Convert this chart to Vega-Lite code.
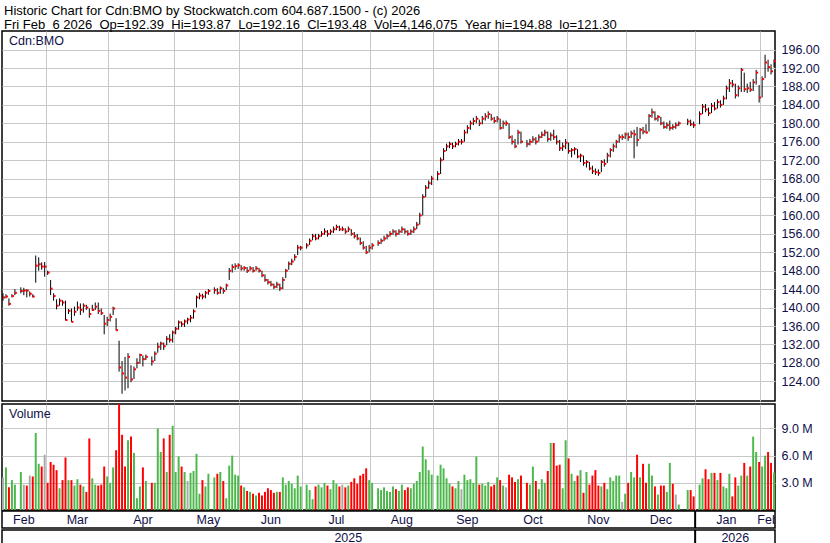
{
  "$schema": "https://vega.github.io/schema/vega-lite/v6.json",
  "background": "white",
  "padding": {"left": 1, "top": 5, "right": 0, "bottom": 0},
  "title": {
    "text": "Historic Chart for Cdn:BMO by Stockwatch.com 604.687.1500 - (c) 2026",
    "subtitle": "Fri Feb\u00a0\u00a06 2026\u00a0\u00a0Op=192.39\u00a0\u00a0Hi=193.87\u00a0\u00a0Lo=192.16\u00a0\u00a0Cl=193.48\u00a0\u00a0Vol=4,146,075\u00a0\u00a0Year hi=194.88\u00a0\u00a0lo=121.30",
    "anchor": "start", "frame": "group", "dx": 2,
    "font": "Liberation Sans", "fontSize": 13, "fontWeight": "normal", "color": "black",
    "subtitleFont": "Liberation Sans", "subtitleFontSize": 13, "subtitleColor": "black",
    "subtitlePadding": 1, "offset": -2
  },
  "datasets": {
    "p": [
      {"d":"2025-02-10","h":143.1,"l":141.5,"c":142.2,"v":3.6e6,"t":"n"},
      {"d":"2025-02-11","h":142.9,"l":142.0,"c":142.4,"v":4.7e6,"t":"u"},
      {"d":"2025-02-12","h":142.0,"l":140.4,"c":140.8,"v":2.5e6,"t":"d"},
      {"d":"2025-02-13","h":142.9,"l":142.2,"c":142.5,"v":3.3e6,"t":"u"},
      {"d":"2025-02-14","h":144.0,"l":142.7,"c":143.2,"v":2.8e6,"t":"u"},
      {"d":"2025-02-17","v":0,"t":"n"},
      {"d":"2025-02-18","h":144.4,"l":143.1,"c":143.6,"v":4.2e6,"t":"u"},
      {"d":"2025-02-19","h":144.3,"l":142.7,"c":143.7,"v":2.8e6,"t":"n"},
      {"d":"2025-02-20","h":144.0,"l":142.2,"c":143.7,"v":2.7e6,"t":"d"},
      {"d":"2025-02-21","h":143.5,"l":142.4,"c":143.0,"v":3.8e6,"t":"n"},
      {"d":"2025-02-24","h":142.9,"l":142.2,"c":142.4,"v":3.7e6,"t":"d"},
      {"d":"2025-02-25","h":151.3,"l":145.4,"c":149.1,"v":8.5e6,"t":"u"},
      {"d":"2025-02-26","h":150.9,"l":148.0,"c":149.4,"v":5.1e6,"t":"u"},
      {"d":"2025-02-27","h":149.8,"l":148.2,"c":148.9,"v":4.8e6,"t":"d"},
      {"d":"2025-02-28","h":149.9,"l":146.7,"c":148.9,"v":6.1e6,"t":"n"},
      {"d":"2025-03-03","h":148.0,"l":147.1,"c":147.6,"v":3.0e6,"t":"d"},
      {"d":"2025-03-04","h":146.0,"l":142.7,"c":144.1,"v":5.3e6,"t":"d"},
      {"d":"2025-03-05","h":143.1,"l":141.5,"c":142.5,"v":5.0e6,"t":"d"},
      {"d":"2025-03-06","h":141.8,"l":139.6,"c":140.4,"v":4.4e6,"t":"d"},
      {"d":"2025-03-07","h":142.0,"l":140.4,"c":141.5,"v":2.4e6,"t":"u"},
      {"d":"2025-03-10","h":141.6,"l":140.4,"c":141.1,"v":3.3e6,"t":"d"},
      {"d":"2025-03-11","h":141.5,"l":137.2,"c":137.3,"v":5.8e6,"t":"d"},
      {"d":"2025-03-12","h":139.7,"l":138.6,"c":139.3,"v":3.3e6,"t":"u"},
      {"d":"2025-03-13","h":139.8,"l":136.9,"c":136.9,"v":3.3e6,"t":"d"},
      {"d":"2025-03-14","h":140.2,"l":138.2,"c":139.1,"v":2.7e6,"t":"u"},
      {"d":"2025-03-17","h":141.3,"l":139.3,"c":140.0,"v":3.4e6,"t":"u"},
      {"d":"2025-03-18","h":140.9,"l":138.4,"c":139.5,"v":2.8e6,"t":"d"},
      {"d":"2025-03-19","h":140.9,"l":138.9,"c":140.4,"v":2.6e6,"t":"u"},
      {"d":"2025-03-20","h":140.6,"l":139.5,"c":140.0,"v":2.0e6,"t":"d"},
      {"d":"2025-03-21","h":139.8,"l":137.8,"c":138.6,"v":7.9e6,"t":"d"},
      {"d":"2025-03-24","h":140.6,"l":139.3,"c":139.5,"v":3.5e6,"t":"u"},
      {"d":"2025-03-25","h":141.1,"l":139.5,"c":140.2,"v":2.8e6,"t":"u"},
      {"d":"2025-03-26","h":141.1,"l":138.6,"c":139.3,"v":2.7e6,"t":"d"},
      {"d":"2025-03-27","h":139.8,"l":138.4,"c":138.8,"v":2.8e6,"t":"d"},
      {"d":"2025-03-28","h":138.4,"l":134.2,"c":136.5,"v":4.8e6,"t":"d"},
      {"d":"2025-03-31","h":138.0,"l":136.0,"c":137.3,"v":3.7e6,"t":"u"},
      {"d":"2025-04-01","h":138.7,"l":137.0,"c":138.0,"v":3.0e6,"t":"u"},
      {"d":"2025-04-02","h":140.2,"l":138.4,"c":139.8,"v":4.7e6,"t":"u"},
      {"d":"2025-04-03","h":137.7,"l":135.0,"c":135.1,"v":6.6e6,"t":"d"},
      {"d":"2025-04-04","h":132.8,"l":126.1,"c":127.0,"v":11.9e6,"t":"d"},
      {"d":"2025-04-07","h":128.4,"l":121.3,"c":125.7,"v":8.3e6,"t":"d"},
      {"d":"2025-04-08","h":129.3,"l":122.0,"c":124.8,"v":4.8e6,"t":"d"},
      {"d":"2025-04-09","h":130.1,"l":122.5,"c":129.3,"v":7.7e6,"t":"u"},
      {"d":"2025-04-10","h":127.5,"l":123.8,"c":124.4,"v":8.1e6,"t":"d"},
      {"d":"2025-04-11","h":127.2,"l":124.5,"c":126.6,"v":6.3e6,"t":"u"},
      {"d":"2025-04-14","h":129.0,"l":126.8,"c":128.0,"v":1.3e6,"t":"u"},
      {"d":"2025-04-15","h":130.0,"l":127.8,"c":129.7,"v":2.6e6,"t":"u"},
      {"d":"2025-04-16","h":129.6,"l":127.2,"c":128.8,"v":4.7e6,"t":"d"},
      {"d":"2025-04-17","h":129.8,"l":128.6,"c":129.3,"v":3.2e6,"t":"u"},
      {"d":"2025-04-18","v":0,"t":"n"},
      {"d":"2025-04-21","h":129.4,"l":127.4,"c":128.3,"v":3.0e6,"t":"d"},
      {"d":"2025-04-22","h":130.5,"l":128.4,"c":130.0,"v":3.0e6,"t":"u"},
      {"d":"2025-04-23","h":132.4,"l":130.2,"c":131.5,"v":9.0e6,"t":"u"},
      {"d":"2025-04-24","h":132.6,"l":130.8,"c":132.2,"v":6.4e6,"t":"u"},
      {"d":"2025-04-25","h":132.4,"l":130.8,"c":131.6,"v":7.9e6,"t":"d"},
      {"d":"2025-04-28","h":133.8,"l":131.8,"c":133.2,"v":4.2e6,"t":"u"},
      {"d":"2025-04-29","h":134.2,"l":132.4,"c":133.0,"v":8.3e6,"t":"d"},
      {"d":"2025-04-30","h":135.0,"l":132.4,"c":134.6,"v":9.3e6,"t":"u"},
      {"d":"2025-05-01","h":135.8,"l":134.2,"c":135.4,"v":4.2e6,"t":"u"},
      {"d":"2025-05-02","h":137.2,"l":135.2,"c":136.8,"v":5.9e6,"t":"u"},
      {"d":"2025-05-05","h":137.0,"l":135.8,"c":136.4,"v":4.8e6,"t":"d"},
      {"d":"2025-05-06","h":137.4,"l":135.8,"c":137.0,"v":4.2e6,"t":"u"},
      {"d":"2025-05-07","h":137.8,"l":136.4,"c":137.4,"v":3.2e6,"t":"n"},
      {"d":"2025-05-08","h":138.4,"l":136.8,"c":137.8,"v":4.1e6,"t":"u"},
      {"d":"2025-05-09","h":139.6,"l":137.6,"c":139.2,"v":4.3e6,"t":"u"},
      {"d":"2025-05-12","h":142.6,"l":140.0,"c":142.2,"v":6.2e6,"t":"u"},
      {"d":"2025-05-13","h":143.2,"l":141.8,"c":142.6,"v":1.8e6,"t":"u"},
      {"d":"2025-05-14","h":143.0,"l":141.8,"c":142.4,"v":3.3e6,"t":"d"},
      {"d":"2025-05-15","h":143.6,"l":142.0,"c":143.2,"v":2.6e6,"t":"u"},
      {"d":"2025-05-16","h":144.0,"l":142.8,"c":143.6,"v":4.0e6,"t":"u"},
      {"d":"2025-05-19","v":0,"t":"n"},
      {"d":"2025-05-20","h":144.4,"l":143.0,"c":143.8,"v":3.6e6,"t":"u"},
      {"d":"2025-05-21","h":144.2,"l":142.8,"c":143.2,"v":4.0e6,"t":"d"},
      {"d":"2025-05-22","h":144.6,"l":143.0,"c":144.2,"v":4.2e6,"t":"u"},
      {"d":"2025-05-23","h":144.2,"l":143.0,"c":143.6,"v":3.2e6,"t":"d"},
      {"d":"2025-05-26","h":145.2,"l":143.8,"c":144.8,"v":1.3e6,"t":"u"},
      {"d":"2025-05-27","h":148.6,"l":146.0,"c":148.0,"v":4.9e6,"t":"u"},
      {"d":"2025-05-28","h":149.4,"l":147.6,"c":148.8,"v":6.0e6,"t":"u"},
      {"d":"2025-05-29","h":149.6,"l":148.2,"c":149.0,"v":3.9e6,"t":"u"},
      {"d":"2025-05-30","h":149.6,"l":148.4,"c":149.2,"v":3.8e6,"t":"u"},
      {"d":"2025-06-02","h":149.2,"l":148.0,"c":148.5,"v":2.7e6,"t":"d"},
      {"d":"2025-06-03","h":149.0,"l":148.0,"c":148.6,"v":2.5e6,"t":"u"},
      {"d":"2025-06-04","h":148.8,"l":147.5,"c":148.0,"v":2.1e6,"t":"d"},
      {"d":"2025-06-05","h":149.0,"l":148.0,"c":148.5,"v":2.0e6,"t":"u"},
      {"d":"2025-06-06","h":148.8,"l":147.6,"c":148.0,"v":1.8e6,"t":"d"},
      {"d":"2025-06-09","h":149.0,"l":148.0,"c":148.5,"v":1.6e6,"t":"u"},
      {"d":"2025-06-10","h":148.6,"l":147.6,"c":148.0,"v":1.9e6,"t":"d"},
      {"d":"2025-06-11","h":148.0,"l":146.6,"c":147.0,"v":1.6e6,"t":"d"},
      {"d":"2025-06-12","h":147.2,"l":145.6,"c":146.0,"v":2.0e6,"t":"d"},
      {"d":"2025-06-13","h":146.2,"l":145.0,"c":145.5,"v":2.4e6,"t":"d"},
      {"d":"2025-06-16","h":145.8,"l":144.6,"c":145.0,"v":2.2e6,"t":"d"},
      {"d":"2025-06-17","h":145.2,"l":144.0,"c":144.5,"v":1.9e6,"t":"d"},
      {"d":"2025-06-18","h":145.6,"l":144.2,"c":145.0,"v":2.0e6,"t":"u"},
      {"d":"2025-06-19","h":145.2,"l":143.6,"c":144.2,"v":2.0e6,"t":"d"},
      {"d":"2025-06-20","h":146.6,"l":144.0,"c":146.0,"v":3.6e6,"t":"u"},
      {"d":"2025-06-23","h":148.4,"l":146.4,"c":148.0,"v":2.8e6,"t":"u"},
      {"d":"2025-06-24","h":150.0,"l":148.2,"c":149.5,"v":3.2e6,"t":"u"},
      {"d":"2025-06-25","h":150.6,"l":149.2,"c":150.0,"v":2.9e6,"t":"u"},
      {"d":"2025-06-26","h":151.6,"l":150.2,"c":151.0,"v":2.4e6,"t":"u"},
      {"d":"2025-06-27","h":153.6,"l":151.4,"c":153.0,"v":3.8e6,"t":"u"},
      {"d":"2025-06-30","h":153.4,"l":152.4,"c":153.0,"v":2.6e6,"t":"u"},
      {"d":"2025-07-01","v":0,"t":"n"},
      {"d":"2025-07-02","h":154.0,"l":152.8,"c":153.5,"v":2.8e6,"t":"u"},
      {"d":"2025-07-03","h":155.0,"l":153.6,"c":154.5,"v":2.2e6,"t":"u"},
      {"d":"2025-07-04","h":156.0,"l":154.6,"c":155.5,"v":1.2e6,"t":"u"},
      {"d":"2025-07-07","h":156.0,"l":154.6,"c":155.0,"v":2.6e6,"t":"d"},
      {"d":"2025-07-08","h":156.0,"l":154.8,"c":155.5,"v":2.8e6,"t":"u"},
      {"d":"2025-07-09","h":156.6,"l":155.4,"c":156.0,"v":2.5e6,"t":"u"},
      {"d":"2025-07-10","h":157.2,"l":155.8,"c":156.5,"v":3.0e6,"t":"u"},
      {"d":"2025-07-11","h":156.8,"l":155.4,"c":156.0,"v":2.7e6,"t":"d"},
      {"d":"2025-07-14","h":157.0,"l":155.8,"c":156.5,"v":2.3e6,"t":"u"},
      {"d":"2025-07-15","h":157.6,"l":156.2,"c":157.0,"v":3.3e6,"t":"u"},
      {"d":"2025-07-16","h":158.0,"l":156.8,"c":157.5,"v":2.9e6,"t":"u"},
      {"d":"2025-07-17","h":157.8,"l":156.6,"c":157.0,"v":2.6e6,"t":"d"},
      {"d":"2025-07-18","h":157.6,"l":156.6,"c":157.0,"v":2.8e6,"t":"n"},
      {"d":"2025-07-21","h":157.2,"l":156.0,"c":156.5,"v":2.5e6,"t":"d"},
      {"d":"2025-07-22","h":157.6,"l":156.4,"c":157.0,"v":2.7e6,"t":"u"},
      {"d":"2025-07-23","h":157.0,"l":155.6,"c":156.0,"v":3.1e6,"t":"d"},
      {"d":"2025-07-24","h":156.4,"l":155.0,"c":155.5,"v":3.5e6,"t":"d"},
      {"d":"2025-07-25","h":156.0,"l":154.6,"c":155.0,"v":2.9e6,"t":"d"},
      {"d":"2025-07-28","h":155.2,"l":153.6,"c":154.0,"v":3.8e6,"t":"d"},
      {"d":"2025-07-29","h":154.4,"l":152.6,"c":153.0,"v":4.0e6,"t":"d"},
      {"d":"2025-07-30","h":153.4,"l":151.6,"c":152.0,"v":4.6e6,"t":"d"},
      {"d":"2025-07-31","h":153.6,"l":152.0,"c":153.0,"v":3.3e6,"t":"u"},
      {"d":"2025-08-01","h":154.0,"l":152.6,"c":153.5,"v":3.0e6,"t":"u"},
      {"d":"2025-08-04","v":0,"t":"n"},
      {"d":"2025-08-05","h":154.6,"l":153.4,"c":154.0,"v":2.4e6,"t":"u"},
      {"d":"2025-08-06","h":155.0,"l":153.8,"c":154.5,"v":2.2e6,"t":"u"},
      {"d":"2025-08-07","h":155.6,"l":154.4,"c":155.0,"v":2.5e6,"t":"u"},
      {"d":"2025-08-08","h":156.0,"l":154.8,"c":155.5,"v":2.1e6,"t":"u"},
      {"d":"2025-08-11","h":156.6,"l":155.4,"c":156.0,"v":2.0e6,"t":"u"},
      {"d":"2025-08-12","h":157.0,"l":155.8,"c":156.5,"v":2.6e6,"t":"u"},
      {"d":"2025-08-13","h":156.8,"l":155.4,"c":156.0,"v":2.3e6,"t":"d"},
      {"d":"2025-08-14","h":157.0,"l":155.8,"c":156.5,"v":2.1e6,"t":"u"},
      {"d":"2025-08-15","h":157.6,"l":156.2,"c":157.0,"v":2.8e6,"t":"u"},
      {"d":"2025-08-18","h":157.2,"l":156.0,"c":156.5,"v":2.2e6,"t":"d"},
      {"d":"2025-08-19","h":156.8,"l":155.6,"c":156.0,"v":2.5e6,"t":"d"},
      {"d":"2025-08-20","h":157.0,"l":155.8,"c":156.5,"v":2.4e6,"t":"u"},
      {"d":"2025-08-21","h":157.6,"l":156.2,"c":157.0,"v":2.9e6,"t":"u"},
      {"d":"2025-08-22","h":158.6,"l":157.0,"c":158.0,"v":3.2e6,"t":"u"},
      {"d":"2025-08-25","h":160.6,"l":158.0,"c":160.0,"v":4.2e6,"t":"u"},
      {"d":"2025-08-26","h":164.6,"l":160.0,"c":164.0,"v":7.0e6,"t":"u"},
      {"d":"2025-08-27","h":166.6,"l":164.0,"c":166.0,"v":5.6e6,"t":"u"},
      {"d":"2025-08-28","h":167.6,"l":165.8,"c":167.0,"v":4.4e6,"t":"u"},
      {"d":"2025-08-29","h":168.6,"l":166.6,"c":168.0,"v":3.9e6,"t":"u"},
      {"d":"2025-09-01","v":0,"t":"n"},
      {"d":"2025-09-02","h":169.6,"l":167.6,"c":169.0,"v":3.8e6,"t":"u"},
      {"d":"2025-09-03","h":172.6,"l":169.0,"c":172.0,"v":5.0e6,"t":"u"},
      {"d":"2025-09-04","h":174.6,"l":172.0,"c":174.0,"v":4.6e6,"t":"u"},
      {"d":"2025-09-05","h":175.6,"l":174.0,"c":175.0,"v":3.5e6,"t":"u"},
      {"d":"2025-09-08","h":176.0,"l":174.6,"c":175.5,"v":2.9e6,"t":"u"},
      {"d":"2025-09-09","h":175.8,"l":174.4,"c":175.0,"v":2.6e6,"t":"d"},
      {"d":"2025-09-10","h":176.0,"l":174.8,"c":175.5,"v":2.4e6,"t":"u"},
      {"d":"2025-09-11","h":176.6,"l":175.2,"c":176.0,"v":3.2e6,"t":"u"},
      {"d":"2025-09-12","h":176.6,"l":175.4,"c":176.0,"v":2.3e6,"t":"n"},
      {"d":"2025-09-15","h":178.6,"l":176.0,"c":178.0,"v":3.9e6,"t":"u"},
      {"d":"2025-09-16","h":179.6,"l":177.8,"c":179.0,"v":3.3e6,"t":"u"},
      {"d":"2025-09-17","h":180.6,"l":178.6,"c":180.0,"v":3.4e6,"t":"u"},
      {"d":"2025-09-18","h":181.2,"l":179.6,"c":180.5,"v":3.0e6,"t":"u"},
      {"d":"2025-09-19","h":181.6,"l":180.0,"c":181.0,"v":5.9e6,"t":"u"},
      {"d":"2025-09-22","h":180.8,"l":179.4,"c":180.0,"v":2.8e6,"t":"d"},
      {"d":"2025-09-23","h":181.6,"l":179.8,"c":181.0,"v":2.9e6,"t":"u"},
      {"d":"2025-09-24","h":182.2,"l":180.6,"c":181.5,"v":2.7e6,"t":"u"},
      {"d":"2025-09-25","h":182.6,"l":181.0,"c":182.0,"v":3.1e6,"t":"u"},
      {"d":"2025-09-26","h":182.0,"l":180.6,"c":181.0,"v":2.6e6,"t":"d"},
      {"d":"2025-09-29","h":181.4,"l":180.0,"c":180.5,"v":2.8e6,"t":"d"},
      {"d":"2025-09-30","h":181.6,"l":180.2,"c":181.0,"v":3.6e6,"t":"u"},
      {"d":"2025-10-01","h":181.0,"l":178.6,"c":179.0,"v":3.3e6,"t":"d"},
      {"d":"2025-10-02","h":180.6,"l":178.8,"c":180.0,"v":2.7e6,"t":"u"},
      {"d":"2025-10-03","h":180.6,"l":179.4,"c":180.0,"v":2.5e6,"t":"n"},
      {"d":"2025-10-06","h":180.0,"l":176.6,"c":177.0,"v":3.9e6,"t":"d"},
      {"d":"2025-10-07","h":177.4,"l":175.4,"c":176.0,"v":3.6e6,"t":"d"},
      {"d":"2025-10-08","h":176.6,"l":174.6,"c":175.0,"v":3.1e6,"t":"d"},
      {"d":"2025-10-09","h":178.6,"l":175.4,"c":178.0,"v":3.4e6,"t":"u"},
      {"d":"2025-10-10","h":178.2,"l":175.6,"c":176.0,"v":3.8e6,"t":"d"},
      {"d":"2025-10-13","v":0,"t":"n"},
      {"d":"2025-10-14","h":176.4,"l":174.8,"c":175.5,"v":3.0e6,"t":"d"},
      {"d":"2025-10-15","h":176.6,"l":175.2,"c":176.0,"v":2.8e6,"t":"u"},
      {"d":"2025-10-16","h":177.2,"l":175.8,"c":176.5,"v":4.8e6,"t":"u"},
      {"d":"2025-10-17","h":177.0,"l":175.4,"c":176.0,"v":3.2e6,"t":"d"},
      {"d":"2025-10-20","h":177.6,"l":176.0,"c":177.0,"v":2.3e6,"t":"u"},
      {"d":"2025-10-21","h":178.2,"l":176.8,"c":177.5,"v":3.4e6,"t":"u"},
      {"d":"2025-10-22","h":178.6,"l":177.2,"c":178.0,"v":3.0e6,"t":"u"},
      {"d":"2025-10-23","h":178.2,"l":176.0,"c":176.6,"v":4.3e6,"t":"d"},
      {"d":"2025-10-24","h":178.0,"l":176.2,"c":177.4,"v":7.4e6,"t":"u"},
      {"d":"2025-10-27","h":178.6,"l":176.4,"c":177.0,"v":7.4e6,"t":"d"},
      {"d":"2025-10-28","h":177.4,"l":175.4,"c":176.0,"v":4.9e6,"t":"d"},
      {"d":"2025-10-29","h":176.4,"l":174.0,"c":174.6,"v":5.0e6,"t":"d"},
      {"d":"2025-10-30","h":175.8,"l":174.0,"c":175.0,"v":2.4e6,"t":"u"},
      {"d":"2025-10-31","h":176.6,"l":174.4,"c":175.8,"v":7.7e6,"t":"u"},
      {"d":"2025-11-03","h":175.8,"l":173.4,"c":174.0,"v":5.7e6,"t":"d"},
      {"d":"2025-11-04","h":174.6,"l":172.6,"c":174.2,"v":4.0e6,"t":"u"},
      {"d":"2025-11-05","h":174.8,"l":173.2,"c":174.4,"v":3.2e6,"t":"u"},
      {"d":"2025-11-06","h":174.4,"l":172.4,"c":172.8,"v":3.8e6,"t":"d"},
      {"d":"2025-11-07","h":173.4,"l":171.6,"c":173.0,"v":4.4e6,"t":"u"},
      {"d":"2025-11-10","h":173.0,"l":170.8,"c":171.4,"v":1.9e6,"t":"d"},
      {"d":"2025-11-11","h":172.0,"l":170.4,"c":171.6,"v":4.2e6,"t":"u"},
      {"d":"2025-11-12","h":171.6,"l":169.8,"c":170.2,"v":2.8e6,"t":"d"},
      {"d":"2025-11-13","h":170.8,"l":169.0,"c":169.6,"v":3.8e6,"t":"d"},
      {"d":"2025-11-14","h":170.2,"l":168.8,"c":169.4,"v":4.4e6,"t":"d"},
      {"d":"2025-11-17","h":170.0,"l":168.6,"c":169.2,"v":2.7e6,"t":"d"},
      {"d":"2025-11-18","h":172.0,"l":169.4,"c":171.6,"v":2.6e6,"t":"u"},
      {"d":"2025-11-19","h":172.2,"l":170.6,"c":171.2,"v":3.0e6,"t":"d"},
      {"d":"2025-11-20","h":173.6,"l":171.4,"c":173.0,"v":2.3e6,"t":"u"},
      {"d":"2025-11-21","h":174.6,"l":172.6,"c":174.2,"v":3.6e6,"t":"u"},
      {"d":"2025-11-24","h":175.6,"l":173.8,"c":175.0,"v":3.2e6,"t":"u"},
      {"d":"2025-11-25","h":176.4,"l":174.6,"c":176.0,"v":3.8e6,"t":"u"},
      {"d":"2025-11-26","h":177.6,"l":175.8,"c":177.0,"v":3.8e6,"t":"u"},
      {"d":"2025-11-27","h":177.6,"l":176.4,"c":177.0,"v":0.9e6,"t":"n"},
      {"d":"2025-11-28","h":178.0,"l":176.6,"c":177.6,"v":1.8e6,"t":"u"},
      {"d":"2025-12-01","h":178.0,"l":176.2,"c":177.0,"v":3.0e6,"t":"d"},
      {"d":"2025-12-02","h":178.4,"l":176.8,"c":177.8,"v":4.2e6,"t":"u"},
      {"d":"2025-12-03","h":178.6,"l":172.4,"c":177.6,"v":3.6e6,"t":"u"},
      {"d":"2025-12-04","h":179.2,"l":175.0,"c":176.4,"v":6.1e6,"t":"d"},
      {"d":"2025-12-05","h":179.0,"l":176.6,"c":178.6,"v":3.6e6,"t":"u"},
      {"d":"2025-12-08","h":179.2,"l":177.6,"c":178.2,"v":5.1e6,"t":"d"},
      {"d":"2025-12-09","h":179.8,"l":177.8,"c":178.0,"v":3.0e6,"t":"d"},
      {"d":"2025-12-10","h":182.0,"l":178.2,"c":181.6,"v":5.1e6,"t":"u"},
      {"d":"2025-12-11","h":183.2,"l":181.2,"c":182.4,"v":3.8e6,"t":"u"},
      {"d":"2025-12-12","h":182.6,"l":180.6,"c":181.0,"v":2.6e6,"t":"d"},
      {"d":"2025-12-15","h":181.8,"l":180.4,"c":181.4,"v":1.7e6,"t":"u"},
      {"d":"2025-12-16","h":181.4,"l":179.6,"c":180.0,"v":2.7e6,"t":"d"},
      {"d":"2025-12-17","h":180.4,"l":178.8,"c":179.2,"v":2.7e6,"t":"d"},
      {"d":"2025-12-18","h":180.2,"l":178.8,"c":179.6,"v":2.0e6,"t":"u"},
      {"d":"2025-12-19","h":180.6,"l":178.4,"c":179.0,"v":5.2e6,"t":"u"},
      {"d":"2025-12-22","h":179.8,"l":178.6,"c":179.2,"v":2.9e6,"t":"d"},
      {"d":"2025-12-23","h":180.2,"l":178.8,"c":179.6,"v":1.7e6,"t":"n"},
      {"d":"2025-12-24","h":180.4,"l":179.4,"c":180.0,"v":0.6e6,"t":"u"},
      {"d":"2025-12-25","v":0,"t":"n"},
      {"d":"2025-12-26","v":0,"t":"n"},
      {"d":"2025-12-29","h":181.0,"l":179.6,"c":180.4,"v":2.2e6,"t":"u"},
      {"d":"2025-12-30","h":180.8,"l":179.4,"c":179.8,"v":2.2e6,"t":"d"},
      {"d":"2025-12-31","h":180.4,"l":179.0,"c":179.6,"v":1.5e6,"t":"d"},
      {"d":"2026-01-01","v":0,"t":"n"},
      {"d":"2026-01-02","h":182.6,"l":179.8,"c":182.0,"v":2.8e6,"t":"u"},
      {"d":"2026-01-05","h":184.2,"l":182.0,"c":183.6,"v":3.5e6,"t":"u"},
      {"d":"2026-01-06","h":184.2,"l":182.4,"c":183.0,"v":4.5e6,"t":"d"},
      {"d":"2026-01-07","h":183.4,"l":181.6,"c":182.2,"v":3.4e6,"t":"d"},
      {"d":"2026-01-08","h":184.4,"l":182.2,"c":183.8,"v":4.1e6,"t":"u"},
      {"d":"2026-01-09","h":184.6,"l":182.8,"c":183.2,"v":4.1e6,"t":"d"},
      {"d":"2026-01-12","h":185.2,"l":183.2,"c":184.6,"v":3.3e6,"t":"u"},
      {"d":"2026-01-13","h":185.0,"l":183.4,"c":184.0,"v":4.1e6,"t":"d"},
      {"d":"2026-01-14","h":186.0,"l":184.0,"c":185.4,"v":2.6e6,"t":"u"},
      {"d":"2026-01-15","h":188.2,"l":185.2,"c":187.6,"v":2.4e6,"t":"u"},
      {"d":"2026-01-16","h":189.6,"l":186.8,"c":188.7,"v":4.0e6,"t":"u"},
      {"d":"2026-01-19","h":189.4,"l":187.8,"c":188.4,"v":1.5e6,"t":"d"},
      {"d":"2026-01-20","h":188.6,"l":185.4,"c":186.1,"v":3.6e6,"t":"d"},
      {"d":"2026-01-21","h":188.2,"l":185.8,"c":187.6,"v":2.7e6,"t":"u"},
      {"d":"2026-01-22","h":192.0,"l":186.8,"c":191.6,"v":3.8e6,"t":"u"},
      {"d":"2026-01-23","h":191.0,"l":186.8,"c":187.4,"v":5.2e6,"t":"d"},
      {"d":"2026-01-26","h":188.6,"l":186.6,"c":187.6,"v":3.8e6,"t":"u"},
      {"d":"2026-01-27","h":189.0,"l":186.8,"c":187.3,"v":4.8e6,"t":"d"},
      {"d":"2026-01-28","h":189.6,"l":187.0,"c":188.9,"v":8.1e6,"t":"u"},
      {"d":"2026-01-29","h":191.6,"l":188.4,"c":191.0,"v":6.4e6,"t":"u"},
      {"d":"2026-01-30","h":188.3,"l":184.5,"c":185.6,"v":5.3e6,"t":"d"},
      {"d":"2026-02-02","h":190.2,"l":185.6,"c":189.6,"v":4.8e6,"t":"u"},
      {"d":"2026-02-03","h":194.88,"l":189.8,"c":193.2,"v":6.0e6,"t":"u"},
      {"d":"2026-02-04","h":193.8,"l":191.2,"c":192.2,"v":6.4e6,"t":"d"},
      {"d":"2026-02-05","h":192.8,"l":190.6,"c":191.3,"v":5.2e6,"t":"d"},
      {"d":"2026-02-06","h":193.87,"l":192.16,"c":193.48,"v":4.146075e6,"t":"u"}
    ],
    "m": [
      {"d":"2025-02-19","label":"Feb"},{"d":"2025-03-17","label":"Mar"},{"d":"2025-04-16","label":"Apr"},
      {"d":"2025-05-16","label":"May"},{"d":"2025-06-16","label":"Jun"},{"d":"2025-07-16","label":"Jul"},
      {"d":"2025-08-15","label":"Aug"},{"d":"2025-09-16","label":"Sep"},{"d":"2025-10-16","label":"Oct"},
      {"d":"2025-11-17","label":"Nov"},{"d":"2025-12-16","label":"Dec"},{"d":"2026-01-15","label":"Jan"},
      {"d":"2026-02-04","label":"Feb"}
    ],
    "yr": [{"d":"2025-07-22","label":"2025"},{"d":"2026-01-20","label":"2026"}],
    "sep": [{"d":"2026-01-01"}]
  },
  "spacing": 1,
  "resolve": {"scale": {"x": "shared"}},
  "vconcat": [
    {
      "width": 773, "height": 370,
      "data": {"name": "p"},
      "title": {"text": "Cdn:BMO", "anchor": "start", "frame": "group", "offset": -16, "dx": 7, "fontSize": 12.5, "fontWeight": "normal", "color": "#101048", "font": "Liberation Sans"},
      "encoding": {
        "x": {"field": "d", "type": "ordinal", "scale": {"paddingInner": 0.34, "paddingOuter": 0},
              "axis": {"labels": false, "grid": true, "bandPosition": -0.25, "minExtent": 0, "maxExtent": 0, "values": ["2025-03-03","2025-04-01","2025-05-01","2025-06-02","2025-07-01","2025-08-01","2025-09-01","2025-10-01","2025-11-03","2025-12-01","2026-01-01","2026-02-02"]}}
      },
      "layer": [
        {
          "mark": {"type": "rule", "color": "black", "strokeWidth": 1},
          "encoding": {
            "y": {"field": "l", "type": "quantitative", "scale": {"domain": [119.72, 200.04], "zero": false, "nice": false},
                  "axis": {"orient": "right", "values": [124,128,132,136,140,144,148,152,156,160,164,168,172,176,180,184,188,192,196], "format": ".2f", "grid": true, "labelPadding": 6, "labelOverlap": false, "labelBound": false, "labelFlush": false}},
            "y2": {"field": "h"}
          }
        },
        {
          "mark": {"type": "square", "size": 4, "color": "#ff0000", "opacity": 1, "filled": true, "xOffset": 1},
          "encoding": {
            "y": {"field": "c", "type": "quantitative",
                  "axis": {"orient": "right", "values": [124,128,132,136,140,144,148,152,156,160,164,168,172,176,180,184,188,192,196], "format": ".2f", "grid": true, "labelPadding": 6, "labelOverlap": false, "labelBound": false, "labelFlush": false}}
          }
        }
      ]
    },
    {
      "spacing": -2.5,
      "resolve": {"scale": {"x": "shared"}},
      "vconcat": [
        {
          "width": 773, "height": 106,
          "data": {"name": "p"},
          "title": {"text": "Volume", "anchor": "start", "frame": "group", "offset": -16, "dx": 7, "fontSize": 12.5, "fontWeight": "normal", "color": "#101048", "font": "Liberation Sans"},
          "mark": {"type": "bar", "clip": true},
          "encoding": {
            "x": {"field": "d", "type": "ordinal",
                  "axis": {"labels": false, "grid": true, "bandPosition": -0.25, "minExtent": 0, "maxExtent": 0, "values": ["2025-03-03","2025-04-01","2025-05-01","2025-06-02","2025-07-01","2025-08-01","2025-09-01","2025-10-01","2025-11-03","2025-12-01","2026-01-01","2026-02-02"]}},
            "y": {"field": "v", "type": "quantitative", "scale": {"domain": [0, 11.7e6], "nice": false},
                  "axis": {"orient": "right", "values": [3e6, 6e6, 9e6], "labelExpr": "format(datum.value / 1e6, '.1f') + ' M'", "grid": true, "labelPadding": 6, "labelOverlap": false}},
            "color": {"field": "t", "type": "nominal", "scale": {"domain": ["u","d","n"], "range": ["#4cb84c","#ff0000","#a9a9a9"]}, "legend": null}
          }
        },
        {
          "width": 773, "height": 17,
          "layer": [
            {
              "data": {"name": "m"},
              "mark": {"type": "text", "fontSize": 12.5, "color": "#101048", "clip": true, "baseline": "middle"},
              "encoding": {"x": {"field": "d", "type": "ordinal", "axis": null}, "text": {"field": "label"}}
            },
            {
              "data": {"name": "sep"},
              "mark": {"type": "rule", "color": "black", "strokeWidth": 2},
              "encoding": {"x": {"field": "d", "type": "ordinal", "bandPosition": -0.25, "axis": null}}
            }
          ]
        },
        {
          "width": 773, "height": 15,
          "layer": [
            {
              "data": {"name": "yr"},
              "mark": {"type": "text", "fontSize": 12.5, "color": "#101048", "baseline": "middle"},
              "encoding": {"x": {"field": "d", "type": "ordinal", "axis": null}, "text": {"field": "label"}}
            },
            {
              "data": {"name": "sep"},
              "mark": {"type": "rule", "color": "black", "strokeWidth": 2},
              "encoding": {"x": {"field": "d", "type": "ordinal", "bandPosition": -0.25, "axis": null}}
            }
          ]
        }
      ]
    }
  ],
  "config": {
    "view": {"stroke": "black", "strokeWidth": 1.5},
    "font": "Liberation Sans",
    "axis": {"gridColor": "#c8c8c8", "gridWidth": 1, "gridOpacity": 1, "labelFont": "Liberation Sans", "labelFontSize": 12.5, "labelColor": "#101048", "ticks": false, "domain": false, "title": null, "labelOverlap": false}
  }
}
